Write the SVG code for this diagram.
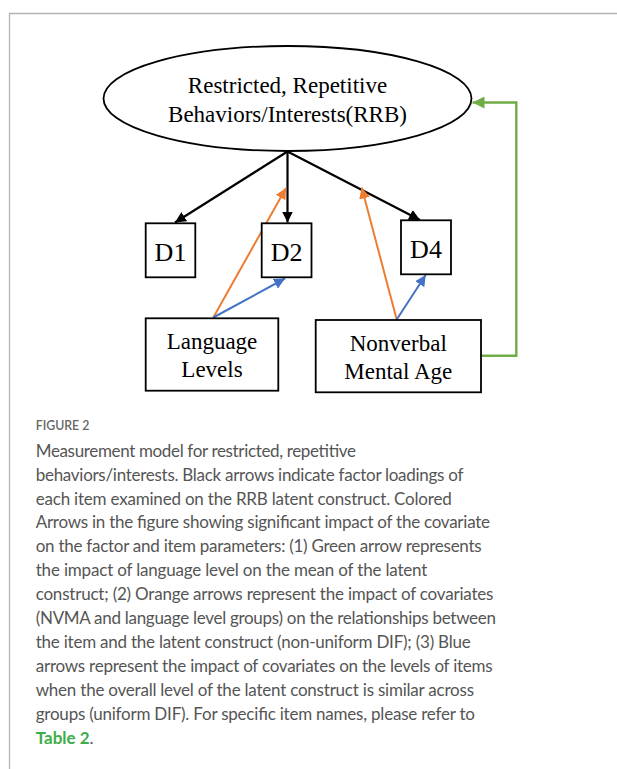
<svg xmlns="http://www.w3.org/2000/svg" width="617" height="769" viewBox="0 0 617 769">
<defs>
<style>
.frame{stroke:#b3b3b3;stroke-width:1.3;fill:none}
.node{fill:#fff;stroke:#000;stroke-width:1.8}
.lbl{font-family:"Liberation Serif","Times New Roman",serif;fill:#000;text-anchor:middle}
.blk{stroke:#000;stroke-width:2.2;fill:none}
.org{stroke:#ED7D31;stroke-width:2;fill:none}
.blu{stroke:#4472C4;stroke-width:2;fill:none}
.grn{stroke:#70AD47;stroke-width:2.4;fill:none}
.cap{font-family:Lato,"Open Sans",sans-serif;font-size:17px;fill:#555}
</style>
<marker id="aBlk" viewBox="0 0 10 10" refX="10" refY="5" markerWidth="5" markerHeight="5" orient="auto" markerUnits="strokeWidth"><path d="M0,0 L10,5 L0,10 z" fill="#000"/></marker>
<marker id="aOrg" viewBox="0 0 10 10" refX="10" refY="5" markerWidth="5.5" markerHeight="5.5" orient="auto" markerUnits="strokeWidth"><path d="M0,0 L10,5 L0,10 z" fill="#ED7D31"/></marker>
<marker id="aBlu" viewBox="0 0 10 10" refX="10" refY="5" markerWidth="5.5" markerHeight="5.5" orient="auto" markerUnits="strokeWidth"><path d="M0,0 L10,5 L0,10 z" fill="#4472C4"/></marker>
<marker id="aGrn" viewBox="0 0 10 10" refX="10" refY="5" markerWidth="5" markerHeight="5" orient="auto" markerUnits="strokeWidth"><path d="M0,0 L10,5 L0,10 z" fill="#70AD47"/></marker>
</defs>
<rect width="617" height="769" fill="#fff"/>
<path class="frame" d="M617,13.5 H9.5 V769"/>

<g id="connectors">
<line class="blk" x1="287.5" y1="151.5" x2="175" y2="222.5" marker-end="url(#aBlk)"/>
<line class="blk" x1="287.5" y1="151.5" x2="287.5" y2="222.5" marker-end="url(#aBlk)"/>
<line class="blk" x1="287.5" y1="151.5" x2="420" y2="220" marker-end="url(#aBlk)"/>
<line class="org" x1="213.3" y1="317.5" x2="286" y2="188" marker-end="url(#aOrg)"/>
<line class="blu" x1="213.3" y1="317.5" x2="285" y2="278.5" marker-end="url(#aBlu)"/>
<line class="org" x1="396.7" y1="319.5" x2="361.7" y2="187.5" marker-end="url(#aOrg)"/>
<line class="blu" x1="396.7" y1="319.5" x2="425.7" y2="275" marker-end="url(#aBlu)"/>
<polyline class="grn" points="481,355.7 516.3,355.7 516.3,102.5 472.5,102.5" marker-end="url(#aGrn)"/>
</g>

<g id="rrb">
<ellipse class="node" cx="287.5" cy="98.5" rx="184" ry="52.5"/>
<text class="lbl" x="287.5" y="93.3" font-size="23">Restricted, Repetitive</text>
<text class="lbl" x="287.5" y="121.7" font-size="23">Behaviors/Interests(RRB)</text>
</g>
<g id="d1">
<rect class="node" x="145.7" y="223.3" width="49.6" height="54"/>
<text class="lbl" x="170.5" y="260.7" font-size="26">D1</text>
</g>
<g id="d2">
<rect class="node" x="261.7" y="223.3" width="49.8" height="54"/>
<text class="lbl" x="286.6" y="260.7" font-size="26">D2</text>
</g>
<g id="d4">
<rect class="node" x="401" y="220.3" width="50" height="54"/>
<text class="lbl" x="426" y="257.5" font-size="26">D4</text>
</g>
<g id="language">
<rect class="node" x="145.7" y="318.3" width="132.6" height="72.4"/>
<text class="lbl" x="212" y="348.5" font-size="23">Language</text>
<text class="lbl" x="212" y="376.7" font-size="23">Levels</text>
</g>
<g id="nvma">
<rect class="node" x="315.7" y="320" width="165.3" height="72.3"/>
<text class="lbl" x="398.3" y="350.7" font-size="23">Nonverbal</text>
<text class="lbl" x="398.3" y="378.5" font-size="23">Mental Age</text>
</g>

<g id="caption">
<text x="35.7" y="430" font-family="Lato,'Open Sans',sans-serif" font-size="13" font-weight="600" fill="#666" textLength="53.7" lengthAdjust="spacingAndGlyphs">FIGURE 2</text>
<text class="cap" x="35.7" y="456.7" textLength="320.3">Measurement model for restricted, repetitive</text>
<text class="cap" x="35.7" y="480.6" textLength="427.7">behaviors/interests. Black arrows indicate factor loadings of</text>
<text class="cap" x="35.7" y="504.5" textLength="416">each item examined on the RRB latent construct. Colored</text>
<text class="cap" x="35.7" y="528.4" textLength="454.3">Arrows in the figure showing significant impact of the covariate</text>
<text class="cap" x="35.7" y="552.3" textLength="446">on the factor and item parameters: (1) Green arrow represents</text>
<text class="cap" x="35.7" y="576.2" textLength="391.7">the impact of language level on the mean of the latent</text>
<text class="cap" x="35.7" y="600.1" textLength="457.7">construct; (2) Orange arrows represent the impact of covariates</text>
<text class="cap" x="35.7" y="624" textLength="460.3">(NVMA and language level groups) on the relationships between</text>
<text class="cap" x="35.7" y="647.9" textLength="435">the item and the latent construct (non-uniform DIF); (3) Blue</text>
<text class="cap" x="35.7" y="671.8" textLength="457">arrows represent the impact of covariates on the levels of items</text>
<text class="cap" x="35.7" y="695.7" textLength="438.3">when the overall level of the latent construct is similar across</text>
<text class="cap" x="35.7" y="719.6" textLength="439.3">groups (uniform DIF). For specific item names, please refer to</text>
<text class="cap" x="35.7" y="743.5"><tspan fill="#3DAE49" font-weight="700">Table 2</tspan>.</text>
</g>
</svg>
